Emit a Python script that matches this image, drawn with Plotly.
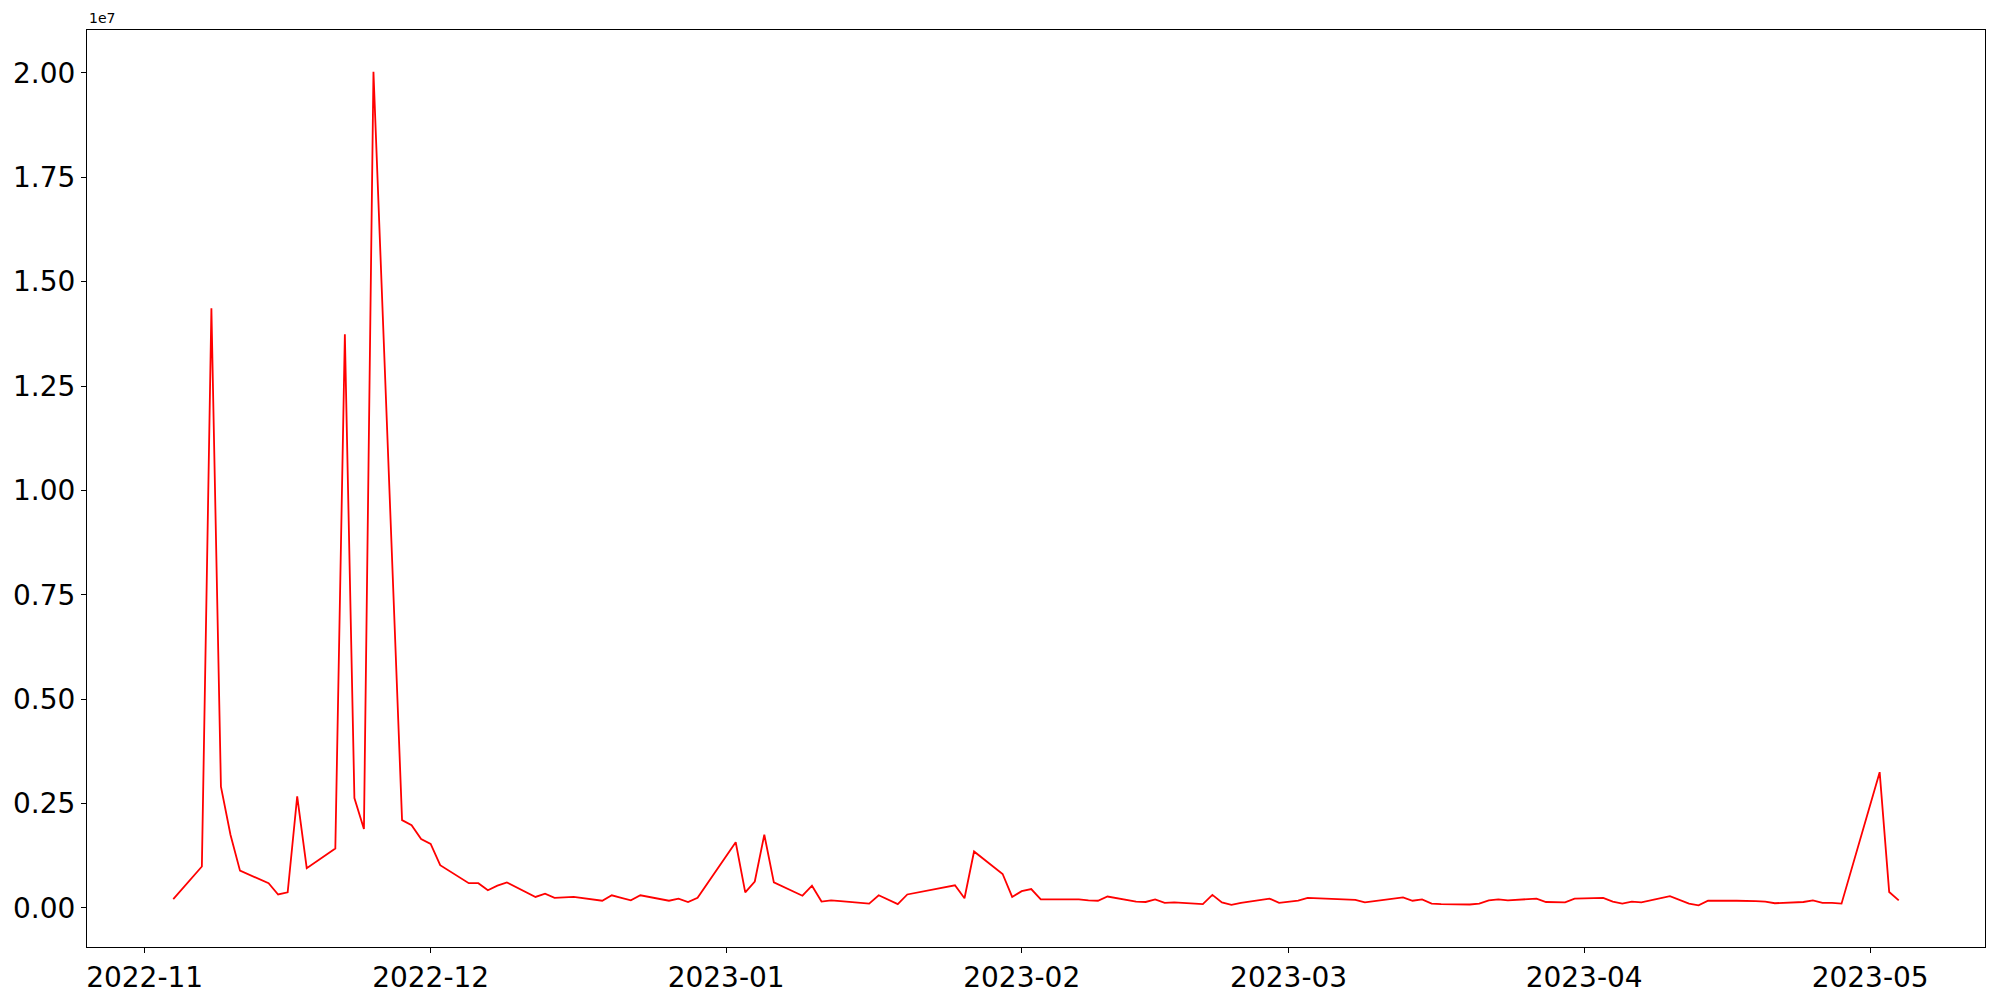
import plotly.graph_objects as go
import pandas as pd

dates = [
    "2022-11-04", "2022-11-07", "2022-11-08", "2022-11-09", "2022-11-10", "2022-11-11",
    "2022-11-14", "2022-11-15", "2022-11-16", "2022-11-17", "2022-11-18",
    "2022-11-21", "2022-11-22", "2022-11-23", "2022-11-24", "2022-11-25",
    "2022-11-28", "2022-11-29", "2022-11-30", "2022-12-01", "2022-12-02",
    "2022-12-05", "2022-12-06", "2022-12-07", "2022-12-08", "2022-12-09",
    "2022-12-12", "2022-12-13", "2022-12-14", "2022-12-15", "2022-12-16",
    "2022-12-19", "2022-12-20", "2022-12-21", "2022-12-22", "2022-12-23",
    "2022-12-26", "2022-12-27", "2022-12-28", "2022-12-29",
    "2023-01-02", "2023-01-03", "2023-01-04", "2023-01-05", "2023-01-06",
    "2023-01-09", "2023-01-10", "2023-01-11", "2023-01-12", "2023-01-13",
    "2023-01-16", "2023-01-17", "2023-01-18", "2023-01-19", "2023-01-20",
    "2023-01-25", "2023-01-26", "2023-01-27",
    "2023-01-30", "2023-01-31", "2023-02-01", "2023-02-02", "2023-02-03",
    "2023-02-06", "2023-02-07", "2023-02-08", "2023-02-09", "2023-02-10",
    "2023-02-13", "2023-02-14", "2023-02-15", "2023-02-16", "2023-02-17",
    "2023-02-20", "2023-02-21", "2023-02-22", "2023-02-23", "2023-02-24",
    "2023-02-27", "2023-02-28", "2023-03-02", "2023-03-03",
    "2023-03-06", "2023-03-07", "2023-03-08", "2023-03-09", "2023-03-10",
    "2023-03-13", "2023-03-14", "2023-03-15", "2023-03-16", "2023-03-17",
    "2023-03-20", "2023-03-21", "2023-03-22", "2023-03-23", "2023-03-24",
    "2023-03-27", "2023-03-28", "2023-03-29", "2023-03-30", "2023-03-31",
    "2023-04-03", "2023-04-04", "2023-04-05", "2023-04-06", "2023-04-07",
    "2023-04-10", "2023-04-11", "2023-04-12", "2023-04-13", "2023-04-14",
    "2023-04-17", "2023-04-18", "2023-04-19", "2023-04-20", "2023-04-21",
    "2023-04-24", "2023-04-25", "2023-04-26", "2023-04-27", "2023-04-28",
    "2023-05-02", "2023-05-03", "2023-05-04",
]

values = [
    210000, 990000, 14360000, 2900000, 1750000, 890000,
    590000, 320000, 370000, 2670000, 950000,
    1420000, 13740000, 2630000, 1890000, 20030000,
    2100000, 1980000, 1650000, 1530000, 1020000,
    590000, 590000, 420000, 530000, 610000,
    260000, 340000, 240000, 250000, 260000,
    170000, 300000, 240000, 180000, 300000,
    170000, 220000, 140000, 240000,
    1570000, 370000, 630000, 1750000, 610000,
    290000, 530000, 150000, 180000, 160000,
    100000, 300000, 200000, 90000, 320000,
    540000, 230000, 1350000,
    810000, 260000, 400000, 450000, 200000,
    200000, 200000, 180000, 170000, 270000,
    150000, 140000, 200000, 120000, 130000,
    90000, 310000, 130000, 70000, 120000,
    220000, 120000, 170000, 240000,
    220000, 210000, 190000, 130000, 160000,
    250000, 170000, 200000, 100000, 90000,
    80000, 100000, 180000, 200000, 180000,
    220000, 140000, 130000, 130000, 220000,
    240000, 150000, 100000, 150000, 130000,
    280000, 190000, 100000, 60000, 170000,
    170000, 170000, 160000, 150000, 110000,
    140000, 180000, 120000, 120000, 100000,
    3250000, 380000, 180000,
]

y_tick_vals = [0, 2.5e6, 5e6, 7.5e6, 1e7, 1.25e7, 1.5e7, 1.75e7, 2e7]
y_tick_text = ["0.00", "0.25", "0.50", "0.75", "1.00", "1.25", "1.50", "1.75", "2.00"]
offset_text = "1e7"

x = pd.to_datetime(dates)
span = x.max() - x.min()
x_range = [x.min() - span * 0.05, x.max() + span * 0.05]
vmin, vmax = min(values), max(values)
y_range = [vmin - 0.05 * (vmax - vmin), vmax + 0.05 * (vmax - vmin)]

fig = go.Figure()
fig.add_trace(go.Scatter(x=x, y=values, mode="lines",
                         line=dict(color="#ff0000", width=1.8),
                         showlegend=False))

axis_common = dict(
    showgrid=False, zeroline=False, showline=True, linecolor="black",
    linewidth=1.1, mirror=True, ticks="outside", ticklen=5, tickwidth=1.1,
    tickcolor="black", automargin=False,
    tickfont=dict(family="DejaVu Sans", size=28, color="black"),
)

fig.update_xaxes(type="date", range=x_range, tickformat="%Y-%m", dtick="M1",
                 tick0="2022-11-01", **axis_common)
fig.update_yaxes(range=y_range, tickmode="array", tickvals=y_tick_vals,
                 ticktext=y_tick_text, **axis_common)

fig.add_annotation(text=offset_text, xref="paper", yref="paper", x=0, y=1,
                   xanchor="left", yanchor="bottom", yshift=2, showarrow=False,
                   font=dict(family="DejaVu Sans", size=14, color="black"))

fig.update_layout(
    width=2000, height=1000,
    margin=dict(l=79, r=23, t=22, b=61),
    paper_bgcolor="white", plot_bgcolor="white",
)

fig.write_html("out.html")
